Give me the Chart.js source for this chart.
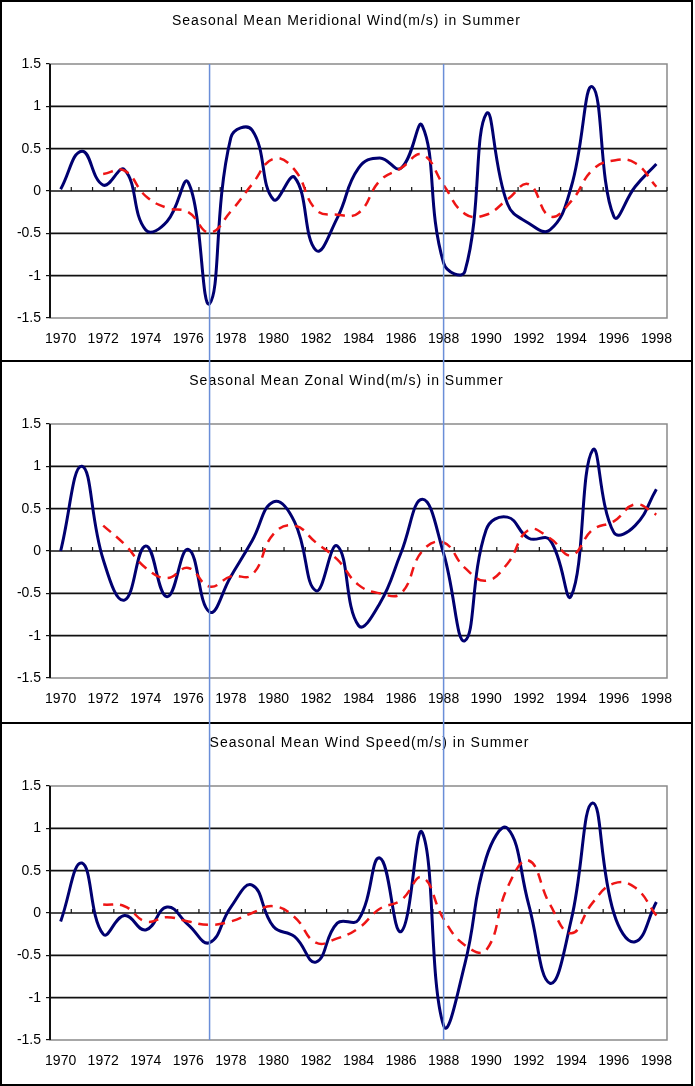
<!DOCTYPE html>
<html>
<head>
<meta charset="utf-8">
<script src="https://cdn.jsdelivr.net/npm/chart.js@4.4.0/dist/chart.umd.min.js"></script>
<style>
  body { margin: 0; background: #fff; }
  .panel { position: absolute; left: 0; width: 693px; border: 2px solid #000; box-sizing: border-box; background: #fff; }
  #p1 { top: 0; height: 362px; }
  #p2 { top: 360px; height: 364px; }
  #p3 { top: 722px; height: 364px; }
  canvas { display: block; }
  #overlay { position: absolute; left: 0; top: 0; pointer-events: none; }
</style>
</head>
<body>
<div class="panel" id="p1"><canvas id="c1"></canvas></div>
<div class="panel" id="p2"><canvas id="c2"></canvas></div>
<div class="panel" id="p3"><canvas id="c3"></canvas></div>
<canvas id="overlay" width="695" height="1086"></canvas>
<script>
    const years = ['1970','1971','1972','1973','1974','1975','1976','1977','1978','1979',
                   '1980','1981','1982','1983','1984','1985','1986','1987','1988','1989',
                   '1990','1991','1992','1993','1994','1995','1996','1997','1998']
    const yTicks = [-1.5, -1, -0.5, 0, 0.5, 1, 1.5]
    const markYears = ['1977', '1988']

    const titles = [
        'Seasonal Mean Meridional Wind(m/s) in Summer',
        'Seasonal Mean Zonal Wind(m/s) in Summer',
        'Seasonal Mean Wind Speed(m/s) in Summer'
    ]

    // meridional wind
    const meridional = [0.02, 0.47, 0.07, 0.25, -0.46, -0.36, 0.1, -1.33, 0.63, 0.72,
                        -0.1, 0.16, -0.7, -0.32, 0.27, 0.39, 0.27, 0.77, -0.85, -0.95,
                        0.91, -0.15, -0.38, -0.46, 0.05, 1.23, -0.3, 0.05, 0.32]
    const meridionalSmooth = [null, null, 0.2, 0.24, -0.06, -0.2, -0.25, -0.49, -0.24, 0.08,
                        0.38, 0.25, -0.22, -0.28, -0.26, 0.12, 0.27, 0.43, 0.07, -0.27,
                        -0.28, -0.1, 0.08, -0.3, -0.12, 0.25, 0.36, 0.33, 0.05]

    // zonal wind
    const zonal = [0.0, 1.0, -0.1, -0.58, 0.06, -0.54, 0.02, -0.72, -0.3, 0.12,
                   0.58, 0.34, -0.47, 0.06, -0.88, -0.62, -0.02, 0.61, -0.03, -1.06,
                   0.25, 0.4, 0.15, 0.13, -0.53, 1.19, 0.22, 0.3, 0.73]
    const zonalSmooth = [null, null, 0.3, 0.08, -0.2, -0.32, -0.2, -0.42, -0.3, -0.28,
                   0.2, 0.3, 0.1, -0.1, -0.4, -0.5, -0.5, 0.0, 0.1, -0.2,
                   -0.35, -0.15, 0.25, 0.15, -0.05, 0.25, 0.35, 0.55, 0.43]

    // wind speed
    const speed = [-0.1, 0.59, -0.25, -0.03, -0.2, 0.07, -0.14, -0.35, 0.07, 0.33,
                   -0.16, -0.28, -0.58, -0.12, -0.08, 0.65, -0.22, 0.95, -1.33, -0.6,
                   0.65, 1.0, 0.1, -0.83, -0.08, 1.3, 0.0, -0.34, 0.13]
    const speedSmooth = [null, null, 0.1, 0.08, -0.1, -0.05, -0.1, -0.14, -0.1, 0.0,
                   0.08, -0.05, -0.35, -0.3, -0.18, 0.05, 0.15, 0.42, -0.07, -0.38,
                   -0.44, 0.3, 0.62, 0.1, -0.24, 0.12, 0.35, 0.3, -0.03]

    Chart.defaults.font.family = "'Liberation Sans', Arial, sans-serif"
    Chart.defaults.font.size = 14
    Chart.defaults.color = '#000'

    const frame = {
        id: 'frame',
        beforeDatasetsDraw(chart) {
            const {ctx, chartArea: a, scales} = chart
            ctx.save()
            ctx.strokeStyle = '#8a8a8a'
            ctx.lineWidth = 1.5
            ctx.strokeRect(a.left, a.top, a.right - a.left, a.bottom - a.top)
            // black horizontal gridlines inside
            ctx.strokeStyle = '#111'
            ctx.lineWidth = 1.6
            yTicks.forEach(v => {
                if (Math.abs(v) === 1.5) return
                const y = scales.y.getPixelForValue(v)
                ctx.beginPath(); ctx.moveTo(a.left, y); ctx.lineTo(a.right, y); ctx.stroke()
            })
            // left axis
            ctx.lineWidth = 2
            ctx.beginPath(); ctx.moveTo(a.left, a.top); ctx.lineTo(a.left, a.bottom); ctx.stroke()
            // tick marks on the zero line
            const y0 = scales.y.getPixelForValue(0)
            const x = scales.x
            const half = (x.getPixelForValue(1) - x.getPixelForValue(0)) / 2
            ctx.lineWidth = 1.2
            for (let i = 0; i <= years.length; i++) {
                const px = x.getPixelForValue(i) - half
                ctx.beginPath(); ctx.moveTo(px, y0 - 4); ctx.lineTo(px, y0); ctx.stroke()
            }
            ctx.restore()
        },
        afterDraw(chart) {
            const {ctx} = chart
            const o = chart.options.plugins.frame
            ctx.save()
            ctx.font = "14px 'Liberation Sans', Arial, sans-serif"
            ctx.letterSpacing = '1px'
            ctx.fillStyle = '#000'
            ctx.textAlign = 'center'
            ctx.textBaseline = 'middle'
            ctx.fillText(o.title, chart.width / 2 + o.shift, 19)
            ctx.restore()
        }
    }

    const makeChart = (id, title, shift, raw, smooth) => {
        const canvas = document.getElementById(id)
        const box = canvas.parentElement
        canvas.width = box.clientWidth
        canvas.height = box.clientHeight
        const bottomSpace = canvas.height - 316

        return new Chart(canvas.getContext('2d'), {
            type: 'line',
            data: {
                labels: years,
                datasets: [{
                    data: raw,
                    borderColor: '#000070',
                    borderWidth: 3,
                    tension: 0.45,
                    pointRadius: 0,
                    order: 1
                }, {
                    data: smooth,
                    borderColor: '#ee1515',
                    borderWidth: 2.5,
                    borderDash: [10, 7],
                    tension: 0.45,
                    pointRadius: 0,
                    order: 0
                }]
            },
            options: {
                responsive: false,
                animation: false,
                events: [],
                layout: { padding: { top: 62, right: 24, left: 0, bottom: 0 } },
                plugins: {
                    legend: { display: false },
                    tooltip: { enabled: false },
                    frame: { title: title, shift: shift }
                },
                scales: {
                    x: {
                        type: 'category',
                        offset: true,
                        grid: { display: false },
                        border: { display: false },
                        ticks: {
                            autoSkip: false,
                            maxRotation: 0,
                            padding: 5,
                            callback: (v, i) => (i % 2 === 0 ? years[i] : '')
                        },
                        afterFit: s => { s.height = bottomSpace }
                    },
                    y: {
                        min: -1.5,
                        max: 1.5,
                        afterBuildTicks: s => { s.ticks = yTicks.map(v => ({value: v})) },
                        grid: { drawOnChartArea: false, tickLength: 4, color: '#111', lineWidth: 1.2 },
                        border: { display: false },
                        ticks: { padding: 5, callback: v => String(v) },
                        afterFit: s => { s.width = 48 }
                    }
                }
            },
            plugins: [frame]
        })
    }

    const charts = [
        makeChart('c1', titles[0], 0, meridional, meridionalSmooth),
        makeChart('c2', titles[1], 0, zonal, zonalSmooth),
        makeChart('c3', titles[2], 23, speed, speedSmooth)
    ]

    // vertical marker lines crossing all three panels
    const overlay = document.getElementById('overlay').getContext('2d')
    const first = charts[0], last = charts[2]
    const r1 = first.canvas.getBoundingClientRect()
    const r3 = last.canvas.getBoundingClientRect()
    const yTop = r1.top + first.chartArea.top
    const yBottom = r3.top + last.chartArea.bottom
    overlay.strokeStyle = '#6a8ed8'
    overlay.lineWidth = 1.5
    markYears.forEach(yr => {
        const px = r1.left + first.scales.x.getPixelForValue(years.indexOf(yr))
        overlay.beginPath()
        overlay.moveTo(px, yTop)
        overlay.lineTo(px, yBottom)
        overlay.stroke()
    })
</script>
</body>
</html>
